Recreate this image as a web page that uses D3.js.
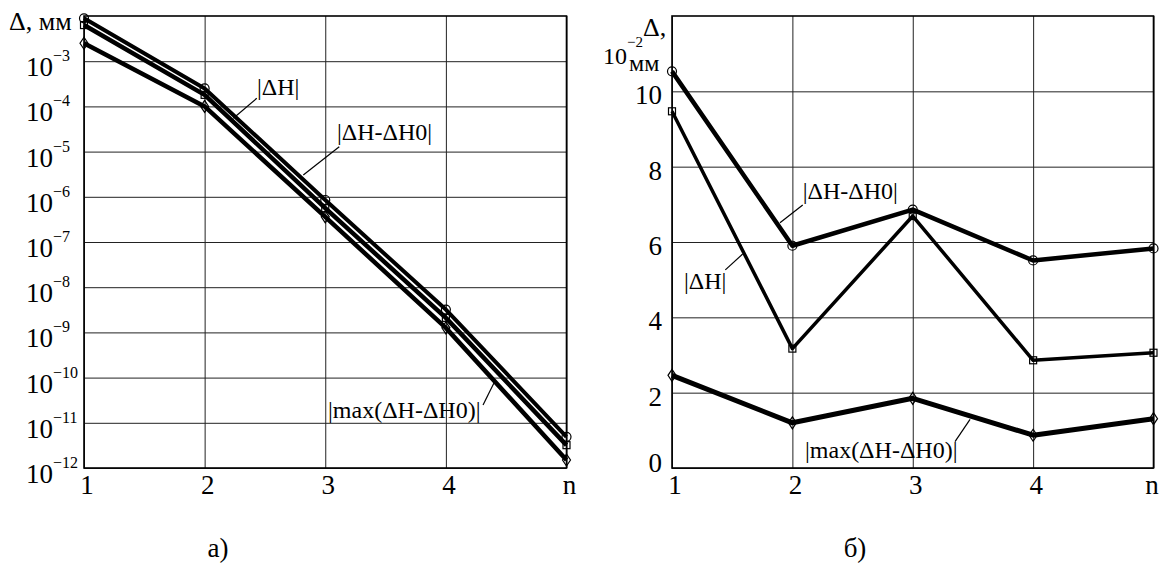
<!DOCTYPE html>
<html>
<head>
<meta charset="utf-8">
<script src="https://cdn.jsdelivr.net/npm/d3@7"></script>
<style>
  body { margin: 0; background: #fff; }
  svg text { font-family: "Liberation Serif", "Times New Roman", serif; fill: #000; }
</style>
</head>
<body>
<div id="chart"></div>
<script>
// Shared x values (n = 1..5), the last tick is labelled "n"
var nValues = [1, 2, 3, 4, 5];
var xTickLabels = ["1", "2", "3", "4", "n"];

// Left chart (a): log scale, mm
var leftDiff = [8.9e-3, 2.5e-4, 8.5e-7, 3.2e-9, 4.9e-12];   // circles
var leftAbs = [6.3e-3, 1.8e-4, 5.6e-7, 2.1e-9, 3.2e-12];    // squares
var leftMax = [2.5e-3, 1.0e-4, 3.6e-7, 1.26e-9, 1.5e-12];   // diamonds
var leftExponents = [-3, -4, -5, -6, -7, -8, -9, -10, -11, -12];

// Right chart (б): linear scale, 10^-2 mm
var rightDiff = [10.53, 5.90, 6.86, 5.51, 5.83];  // circles
var rightAbs = [9.47, 3.17, 6.69, 2.86, 3.06];    // squares
var rightMax = [2.46, 1.20, 1.85, 0.87, 1.31];    // diamonds
var rightTicks = [0, 2, 4, 6, 8, 10];

// Labels with leader lines, anchored in data coordinates
var leftNotes = [
  { text: "|ΔH|", x: 2.434, y: -3.748, from: [2.432, -3.821], to: [2.238, -4.263] },
  { text: "|ΔH-ΔH0|", x: 3.097, y: -4.743, from: [3.116, -4.892], to: [2.818, -5.518] },
  { text: "|max(ΔH-ΔH0)|", x: 3.023, y: -10.883, from: [4.308, -10.606], to: [4.407, -10.075] }
];
var rightNotes = [
  { text: "|ΔH-ΔH0|", x: 2.086, y: 7.14, from: [2.086, 6.98], to: [1.897, 6.51] },
  { text: "|ΔH|", x: 1.10, y: 4.75, from: [1.443, 5.26], to: [1.587, 5.68] },
  { text: "|max(ΔH-ΔH0)|", x: 2.105, y: 0.265, from: [3.351, 0.70], to: [3.476, 1.29] }
];

var width = 1160, height = 568;
var plotTop = 16, plotBottom = 468;

var svg = d3.select("#chart").append("svg")
    .attr("width", width)
    .attr("height", height);

// marker drawing helper
function drawMarkers(g, data, x, y, shape) {
  data.forEach(function(v, i) {
    var cx = x(nValues[i]), cy = y(v);
    if (shape === "circle") {
      g.append("circle").attr("cx", cx).attr("cy", cy).attr("r", 4.5)
        .attr("fill", "none").attr("stroke", "#000").attr("stroke-width", 1.2);
    } else if (shape === "square") {
      g.append("rect").attr("x", cx - 3.5).attr("y", cy - 3.5).attr("width", 7).attr("height", 7)
        .attr("fill", "none").attr("stroke", "#000").attr("stroke-width", 1.2);
    } else {
      g.append("path")
        .attr("d", "M" + cx + "," + (cy - 6) + "L" + (cx + 4) + "," + cy + "L" + cx + "," + (cy + 6) + "L" + (cx - 4) + "," + cy + "Z")
        .attr("fill", "none").attr("stroke", "#000").attr("stroke-width", 1.2);
    }
  });
}

function drawSeries(g, data, x, y, w, shape) {
  var line = d3.line()
    .x(function(d, i) { return x(nValues[i]); })
    .y(function(d) { return y(d); });
  g.append("path")
    .datum(data)
    .attr("d", line)
    .attr("fill", "none")
    .attr("stroke", "#000")
    .attr("stroke-width", w)
    .attr("stroke-linejoin", "round");
  drawMarkers(g, data, x, y, shape);
}

function drawFrame(g, x, y, yTicks) {
  // vertical grid
  g.append("g")
    .attr("transform", "translate(0," + plotBottom + ")")
    .call(d3.axisBottom(x).tickValues(nValues).tickSize(-(plotBottom - plotTop)).tickFormat(""))
    .call(function(s) {
      s.select(".domain").remove();
      s.selectAll("line").attr("stroke", "#222").attr("stroke-width", 1);
    });
  // horizontal grid
  g.append("g")
    .attr("transform", "translate(" + x.range()[0] + ",0)")
    .call(d3.axisLeft(y).tickValues(yTicks).tickSize(-(x.range()[1] - x.range()[0])).tickFormat(""))
    .call(function(s) {
      s.select(".domain").remove();
      s.selectAll("line").attr("stroke", "#222").attr("stroke-width", 1);
    });
  // border
  g.append("rect")
    .attr("x", x.range()[0]).attr("y", plotTop)
    .attr("width", x.range()[1] - x.range()[0]).attr("height", plotBottom - plotTop)
    .attr("fill", "none").attr("stroke", "#000").attr("stroke-width", 1.6);
  // x tick labels (keep the last one inside the page)
  g.selectAll(".xlab")
    .data(nValues)
    .enter().append("text")
    .attr("x", function(d) { return Math.min(x(d) + 3, width - 8); })
    .attr("y", plotBottom + 26)
    .attr("text-anchor", "middle")
    .style("font-size", "27px")
    .text(function(d, i) { return xTickLabels[i]; });
}

function drawNotes(g, notes, x, y) {
  notes.forEach(function(n) {
    g.append("line")
      .attr("x1", x(n.from[0])).attr("y1", y(n.from[1]))
      .attr("x2", x(n.to[0])).attr("y2", y(n.to[1]))
      .attr("stroke", "#000").attr("stroke-width", 1.2);
    g.append("text")
      .attr("x", x(n.x)).attr("y", y(n.y))
      .style("font-size", "24px")
      .text(n.text);
  });
}

// ---------- left chart (a) ----------
var xL = d3.scaleLinear().domain([1, 5]).range([84, 566.5]);
var yL = d3.scaleLog().domain([1e-12, 1e-2]).range([plotBottom, plotTop]);
var yLexp = function(e) { return yL(Math.pow(10, e)); };

var left = svg.append("g");
drawFrame(left, xL, yL, leftExponents.map(function(e) { return Math.pow(10, e); }));

leftExponents.forEach(function(e) {
  var t = left.append("text")
    .attr("x", 26)
    .attr("y", yL(Math.pow(10, e)) + 15)
    .style("font-size", "27px");
  t.append("tspan").text("10");
  t.append("tspan").attr("dy", -15).style("font-size", "16px").text("−" + (-e));
});
left.append("text")
  .attr("x", 9).attr("y", 30)
  .style("font-size", "26px")
  .text("Δ, мм");

drawSeries(left, leftMax, xL, yL, 4.5, "diamond");
drawSeries(left, leftAbs, xL, yL, 4.5, "square");
drawSeries(left, leftDiff, xL, yL, 4, "circle");
drawNotes(left, leftNotes, xL, yLexp);

// ---------- right chart (б) ----------
var xR = d3.scaleLinear().domain([1, 5]).range([672, 1153.5]);
var yR = d3.scaleLinear().domain([0, 12]).range([plotBottom, plotTop]);

var right = svg.append("g");
drawFrame(right, xR, yR, rightTicks);

right.selectAll(".ylab")
  .data(rightTicks)
  .enter().append("text")
  .attr("x", 662)
  .attr("y", function(d) { return yR(d) + (d === 0 ? 4 : 13); })
  .attr("text-anchor", "end")
  .style("font-size", "27px")
  .text(function(d) { return d; });

// unit label: "Δ," then "10^-2 мм" below it
right.append("text").attr("x", 643).attr("y", 36).style("font-size", "26px").text("Δ,");
var unit = right.append("text").attr("x", 603).attr("y", 64).style("font-size", "24px");
unit.append("tspan").text("10");
unit.append("tspan").attr("dy", -17).style("font-size", "15px").text("−2");
right.append("text").attr("x", 629).attr("y", 71).style("font-size", "24px").text("мм");

drawSeries(right, rightMax, xR, yR, 5, "diamond");
drawSeries(right, rightAbs, xR, yR, 3.5, "square");
drawSeries(right, rightDiff, xR, yR, 4.5, "circle");
drawNotes(right, rightNotes, xR, yR);

// captions
svg.append("text").attr("x", 218).attr("y", 557).attr("text-anchor", "middle")
  .style("font-size", "27px").text("а)");
svg.append("text").attr("x", 855).attr("y", 557).attr("text-anchor", "middle")
  .style("font-size", "27px").text("б)");
</script>
</body>
</html>
